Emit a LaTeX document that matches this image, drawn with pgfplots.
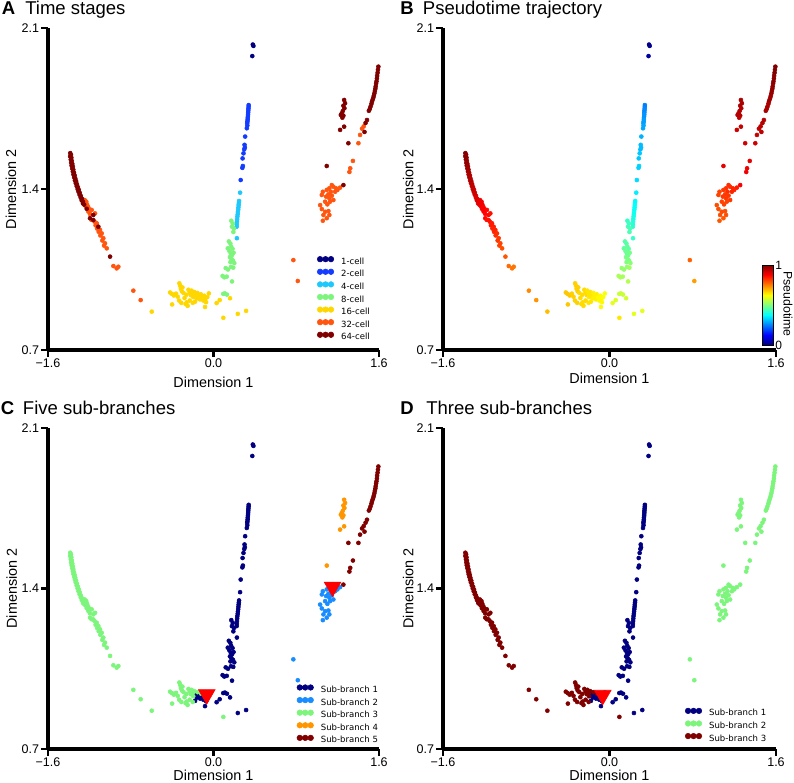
\documentclass[border=0pt]{standalone}
\usepackage{pgfplots}
\pgfplotsset{compat=1.18}
\usepackage{pgfplotstable}
\usepackage{fontspec}
\setmainfont{Liberation Sans}
\newfontfamily\dejavu{DejaVu Sans}

\definecolor{st1}{RGB}{0,0,128}
\definecolor{st2}{RGB}{20,60,255}
\definecolor{st3}{RGB}{30,200,250}
\definecolor{st4}{RGB}{125,245,125}
\definecolor{st5}{RGB}{255,215,0}
\definecolor{st6}{RGB}{255,85,15}
\definecolor{st7}{RGB}{128,0,0}
\definecolor{br1}{RGB}{0,0,128}
\definecolor{br2}{RGB}{25,140,255}
\definecolor{br3}{RGB}{125,245,125}
\definecolor{br4}{RGB}{255,150,0}
\definecolor{br5}{RGB}{128,0,0}

\pgfplotstableread{
x y st pt b5 b3
0.380 2.028 1 0.01 1 1
0.386 2.022 1 0.01 1 1
0.375 1.978 1 0.03 1 1
0.340 1.765 2 0.25 1 1
0.339 1.757 2 0.25 1 1
0.338 1.749 2 0.26 1 1
0.336 1.741 2 0.26 1 1
0.335 1.733 2 0.26 1 1
0.334 1.725 2 0.27 1 1
0.333 1.717 2 0.27 1 1
0.331 1.709 2 0.27 1 1
0.330 1.701 2 0.28 1 1
0.328 1.693 2 0.28 1 1
0.326 1.686 2 0.28 1 1
0.327 1.676 2 0.29 1 1
0.322 1.664 2 0.29 1 1
0.306 1.628 2 0.30 1 1
0.300 1.592 2 0.31 1 1
0.303 1.580 2 0.31 1 1
0.297 1.572 2 0.31 1 1
0.290 1.555 2 0.32 1 1
0.281 1.533 2 0.32 1 1
0.284 1.500 2 0.33 1 1
0.279 1.492 2 0.33 1 1
0.263 1.439 2 0.34 1 1
0.257 1.384 3 0.36 1 1
0.247 1.348 3 0.37 1 1
0.245 1.339 3 0.37 1 1
0.243 1.330 3 0.38 1 1
0.241 1.320 3 0.38 1 1
0.239 1.310 3 0.38 1 1
0.236 1.300 3 0.39 1 1
0.234 1.290 3 0.39 1 1
0.231 1.280 3 0.40 1 1
0.229 1.269 3 0.40 1 1
0.227 1.258 3 0.41 1 1
0.225 1.246 3 0.41 1 1
0.224 1.236 3 0.42 1 1
0.226 1.186 3 0.43 1 1
0.172 1.262 4 0.43 1 1
0.186 1.250 4 0.44 1 1
0.178 1.236 4 0.44 1 1
0.198 1.228 4 0.45 1 1
0.192 1.213 4 0.45 1 1
0.148 1.172 4 0.46 1 1
0.163 1.163 4 0.46 1 1
0.138 1.142 4 0.47 1 1
0.171 1.150 4 0.47 1 1
0.184 1.140 4 0.47 1 1
0.154 1.130 4 0.48 1 1
0.167 1.120 4 0.48 1 1
0.180 1.113 4 0.48 1 1
0.194 1.123 4 0.49 1 1
0.159 1.104 4 0.49 1 1
0.174 1.096 4 0.50 1 1
0.188 1.089 4 0.50 1 1
0.164 1.082 4 0.50 1 1
0.201 1.078 4 0.51 1 1
0.118 1.056 4 0.52 1 1
0.140 1.050 4 0.52 1 1
0.169 1.061 4 0.52 1 1
0.191 1.058 4 0.53 1 1
0.088 1.022 4 0.54 1 1
0.104 1.016 4 0.54 1 1
0.128 1.019 4 0.54 1 1
0.179 0.998 4 0.55 1 1
0.094 0.944 4 0.57 1 1
0.110 0.946 4 0.57 1 1
0.130 0.941 4 0.57 1 1
-0.597 0.867 5 0.69 3 3
-0.420 0.950 5 0.68 3 3
-0.402 0.944 5 0.68 3 3
-0.383 0.937 5 0.68 3 3
-0.362 0.945 5 0.67 3 3
-0.346 0.932 5 0.67 3 3
-0.400 0.898 5 0.68 3 3
-0.330 0.990 5 0.67 3 3
-0.322 0.979 5 0.67 3 3
-0.316 0.966 5 0.67 3 3
-0.300 0.972 5 0.67 3 3
-0.306 0.955 5 0.67 3 3
-0.290 0.948 5 0.66 3 3
-0.332 0.915 5 0.67 3 3
-0.311 0.905 5 0.67 3 3
-0.270 0.900 5 0.66 3 3
-0.259 0.907 5 0.66 3 3
-0.250 0.892 5 0.66 3 3
-0.280 0.926 5 0.66 3 3
-0.262 0.940 5 0.66 3 3
-0.242 0.962 5 0.66 3 3
-0.230 0.950 5 0.66 3 3
-0.220 0.939 5 0.66 3 3
-0.212 0.958 5 0.65 3 3
-0.200 0.945 5 0.65 3 3
-0.196 0.930 5 0.65 3 3
-0.200 0.905 5 0.65 3 3
-0.230 0.915 5 0.66 3 3
-0.185 0.952 5 0.65 3 3
-0.178 0.910 5 0.65 1 1
-0.170 0.938 5 0.65 1 1
-0.162 0.924 5 0.64 1 1
-0.155 0.948 5 0.64 3 3
-0.145 0.934 5 0.64 1 1
-0.130 0.920 5 0.64 1 1
-0.122 0.942 5 0.64 3 3
-0.110 0.928 5 0.63 1 1
-0.098 0.915 5 0.63 1 1
-0.090 0.936 5 0.63 1 1
-0.080 0.922 5 0.63 1 1
-0.072 0.908 5 0.63 1 1
-0.060 0.930 5 0.62 1 1
-0.045 0.946 5 0.62 1 1
-0.082 0.887 5 0.63 1 1
0.030 0.904 5 0.60 1 1
0.060 0.917 5 0.59 1 1
0.095 0.840 5 0.65 3 3
0.160 0.925 5 0.58 1 1
0.235 0.857 5 0.60 1 1
0.315 0.870 5 0.60 1 1
-0.775 0.958 6 0.74 3 3
-0.704 0.917 6 0.73 3 3
-1.385 1.556 7 1.00 3 3
-1.378 1.549 7 0.99 3 3
-1.386 1.542 7 0.99 3 3
-1.374 1.536 7 0.99 3 3
-1.380 1.528 7 0.99 3 3
-1.370 1.522 7 0.98 3 3
-1.376 1.514 7 0.98 3 3
-1.365 1.509 7 0.98 3 3
-1.372 1.502 7 0.98 3 3
-1.360 1.497 7 0.97 3 3
-1.366 1.489 7 0.97 3 3
-1.355 1.484 7 0.97 3 3
-1.360 1.476 7 0.97 3 3
-1.349 1.471 7 0.96 3 3
-1.354 1.463 7 0.96 3 3
-1.342 1.459 7 0.96 3 3
-1.347 1.451 7 0.96 3 3
-1.336 1.446 7 0.95 3 3
-1.340 1.438 7 0.95 3 3
-1.328 1.434 7 0.95 3 3
-1.332 1.426 7 0.95 3 3
-1.320 1.421 7 0.94 3 3
-1.323 1.413 7 0.94 3 3
-1.311 1.408 7 0.94 3 3
-1.314 1.400 7 0.93 3 3
-1.302 1.396 7 0.93 3 3
-1.305 1.388 7 0.93 3 3
-1.293 1.383 7 0.92 3 3
-1.295 1.375 7 0.92 3 3
-1.283 1.370 7 0.92 3 3
-1.284 1.362 7 0.91 3 3
-1.272 1.358 7 0.91 3 3
-1.274 1.350 7 0.91 3 3
-1.262 1.345 7 0.90 3 3
-1.262 1.337 7 0.90 3 3
-1.250 1.332 7 0.90 3 3
-1.245 1.352 6 0.90 3 3
-1.230 1.345 6 0.89 3 3
-1.238 1.326 6 0.89 3 3
-1.222 1.333 6 0.89 3 3
-1.212 1.322 6 0.88 3 3
-1.226 1.314 7 0.88 3 3
-1.200 1.312 6 0.88 3 3
-1.210 1.302 6 0.88 3 3
-1.178 1.309 6 0.87 3 3
-1.195 1.292 6 0.87 3 3
-1.162 1.287 7 0.87 3 3
-1.145 1.294 6 0.86 3 3
-1.194 1.273 7 0.87 3 3
-1.180 1.266 6 0.86 3 3
-1.162 1.265 7 0.86 3 3
-1.150 1.258 6 0.86 3 3
-1.129 1.251 6 0.85 3 3
-1.140 1.242 6 0.85 3 3
-1.113 1.236 7 0.85 3 3
-1.125 1.228 6 0.84 3 3
-1.097 1.222 6 0.84 3 3
-1.110 1.214 6 0.84 3 3
-1.081 1.207 6 0.83 3 3
-1.094 1.198 6 0.83 3 3
-1.065 1.186 6 0.82 3 3
-1.075 1.176 6 0.82 3 3
-1.049 1.164 6 0.81 3 3
-1.058 1.154 6 0.81 3 3
-1.032 1.142 6 0.80 3 3
-1.000 1.106 7 0.79 3 3
-0.968 1.065 6 0.77 3 3
-0.936 1.055 6 0.76 3 3
-0.920 1.062 6 0.76 3 3
1.594 1.932 7 1.00 5 2
1.590 1.918 7 1.00 5 2
1.586 1.905 7 1.00 5 2
1.582 1.892 7 0.99 5 2
1.580 1.880 7 0.99 5 2
1.576 1.868 7 0.99 5 2
1.572 1.858 7 0.99 5 2
1.568 1.846 7 0.98 5 2
1.565 1.836 7 0.98 5 2
1.560 1.826 7 0.98 5 2
1.556 1.816 7 0.98 5 2
1.550 1.806 7 0.97 5 2
1.545 1.797 7 0.97 5 2
1.538 1.788 7 0.97 5 2
1.532 1.779 7 0.97 5 2
1.527 1.770 7 0.96 5 2
1.518 1.758 7 0.96 5 2
1.511 1.748 7 0.96 5 2
1.502 1.740 7 0.96 5 2
1.484 1.700 7 0.95 5 2
1.470 1.687 7 0.95 5 2
1.452 1.672 6 0.94 5 2
1.436 1.662 6 0.94 5 2
1.460 1.648 7 0.94 5 2
1.417 1.635 6 0.93 5 2
1.401 1.599 6 0.92 5 2
1.304 1.599 7 0.92 5 2
1.348 1.522 6 0.90 5 2
1.322 1.490 6 0.89 5 2
1.314 1.474 6 0.89 5 2
1.256 1.417 7 0.88 5 2
1.263 1.787 7 0.96 4 2
1.272 1.773 7 0.96 4 2
1.256 1.762 7 0.96 4 2
1.266 1.751 7 0.95 4 2
1.250 1.739 7 0.95 4 2
1.240 1.729 7 0.95 4 2
1.231 1.722 7 0.95 4 2
1.256 1.719 7 0.95 4 2
1.246 1.710 7 0.94 4 2
1.224 1.657 7 0.93 4 2
1.263 1.671 7 0.93 4 2
1.095 1.500 7 0.90 4 2
1.224 1.406 6 0.85 2 2
1.198 1.396 6 0.84 2 2
1.176 1.388 6 0.84 2 2
1.144 1.417 6 0.83 2 2
1.159 1.410 6 0.83 2 2
1.120 1.403 6 0.83 2 2
1.134 1.388 6 0.83 2 2
1.095 1.396 6 0.82 2 2
1.111 1.377 6 0.82 2 2
1.144 1.371 6 0.82 2 2
1.089 1.367 6 0.82 2 2
1.120 1.360 6 0.82 2 2
1.159 1.352 6 0.82 2 2
1.079 1.345 6 0.81 2 2
1.127 1.345 6 0.81 2 2
1.101 1.333 6 0.81 2 2
1.057 1.388 6 0.81 2 2
1.047 1.374 6 0.81 2 2
1.185 1.403 6 0.84 2 2
1.031 1.330 6 0.80 2 2
1.047 1.313 6 0.80 2 2
1.079 1.301 6 0.80 2 2
1.111 1.304 6 0.80 2 2
1.063 1.287 6 0.80 2 2
1.095 1.273 6 0.79 2 2
1.057 1.262 6 0.79 2 2
1.120 1.287 6 0.80 2 2
0.772 1.091 6 0.78 2 2
0.815 1.000 6 0.72 2 2
}\cells

\pgfplotsset{
  sel/.style 2 args={x filter/.expression={abs(\thisrow{#1}-#2)<0.5 ? x : nan}},
  dots/.style={only marks, mark=*, mark size=1.5pt, color=#1},
  panel/.style={
    scale only axis, anchor=south west,
    axis x line*=bottom, axis y line*=left,
    xmin=-1.6, xmax=1.6, ymin=0.7, ymax=2.1,
    xtick={-1.6,0,1.6}, xticklabels={−1.6,0.0,1.6},
    ytick={0.7,1.4,2.1}, yticklabels={0.7,1.4,2.1},
    tick align=outside, major tick length=5pt,
    tick style={black, line width=1.6pt},
    axis line style={black, line width=2.3pt},
    tick label style={font=\fontsize{9.4}{11}\selectfont, inner sep=1.5pt},
    label style={font=\fontsize{10.8}{13}\selectfont},
    xlabel={Dimension 1}, ylabel={Dimension 2},
    clip=false,
  },
  dotleg/.style={
    legend cell align=left,
    legend image code/.code={\fill (0pt,2pt) circle (2.1pt) (4.1pt,2pt) circle (2.1pt) (8.2pt,2pt) circle (2.1pt);},
    legend style={draw=none, fill=none, inner sep=0pt, outer sep=0pt, anchor=north west,
      font=\dejavu\fontsize{6.4}{7.5}\selectfont, row sep=1.75pt,
      nodes={inner sep=0.4pt, text height=4.8pt, text depth=1.2pt},
      /tikz/every odd column/.append style={column sep=4.9pt}},
  },
}

\begin{document}
\begin{tikzpicture}
\useasboundingbox (0,0) rectangle (595.5pt,587.25pt);

\node[anchor=base west, inner sep=0pt, font=\fontsize{13.9}{16}\selectfont\bfseries] at (1.2pt,576pt) {A};
\node[anchor=base west, inner sep=0pt, font=\fontsize{13.9}{16}\selectfont] at (18.75pt,576pt) {Time stages};
\node[anchor=base west, inner sep=0pt, font=\fontsize{13.9}{16}\selectfont\bfseries] at (300pt,576pt) {B};
\node[anchor=base west, inner sep=0pt, font=\fontsize{13.9}{16}\selectfont] at (317pt,576pt) {Pseudotime trajectory};
\node[anchor=base west, inner sep=0pt, font=\fontsize{13.9}{16}\selectfont\bfseries] at (0.5pt,276pt) {C};
\node[anchor=base west, inner sep=0pt, font=\fontsize{13.9}{16}\selectfont] at (17pt,276pt) {Five sub-branches};
\node[anchor=base west, inner sep=0pt, font=\fontsize{13.9}{16}\selectfont\bfseries] at (300pt,276pt) {D};
\node[anchor=base west, inner sep=0pt, font=\fontsize{13.9}{16}\selectfont] at (319.5pt,276pt) {Three sub-branches};

% Panel A
\begin{axis}[panel, dotleg, at={(36pt,324.75pt)}, width=248.25pt, height=241.5pt,
  xlabel style={at={(axis description cs:0.5,-0.1009)}, anchor=center},
  ylabel style={at={(axis description cs:-0.1118,0.5)}, anchor=center},
  legend style={at={(0.8127,0.2916)}}]
\addplot[dots=st1, sel={st}{1}] table[x=x,y=y]{\cells};
\addlegendentry{1-cell}
\addplot[dots=st2, sel={st}{2}] table[x=x,y=y]{\cells};
\addlegendentry{2-cell}
\addplot[dots=st3, sel={st}{3}] table[x=x,y=y]{\cells};
\addlegendentry{4-cell}
\addplot[dots=st4, sel={st}{4}] table[x=x,y=y]{\cells};
\addlegendentry{8-cell}
\addplot[dots=st5, sel={st}{5}] table[x=x,y=y]{\cells};
\addlegendentry{16-cell}
\addplot[dots=st6, sel={st}{6}] table[x=x,y=y]{\cells};
\addlegendentry{32-cell}
\addplot[dots=st7, sel={st}{7}] table[x=x,y=y]{\cells};
\addlegendentry{64-cell}
\end{axis}

% Panel B
\begin{axis}[panel, at={(332.25pt,324.75pt)}, width=249.75pt, height=241.5pt,
  xlabel style={at={(axis description cs:0.5,-0.0879)}, anchor=center},
  ylabel style={at={(axis description cs:-0.1042,0.5)}, anchor=center},
  colormap/jet, point meta min=0, point meta max=1,
  colorbar,
  colorbar style={scale only axis, at={(parent axis.south east)}, anchor=south east,
    xshift=-10.7pt, yshift=3.75pt, width=8.25pt, height=60pt,
    ytick={0,1}, yticklabels={0,1}, axis line style={line width=0.5pt},
    tick style={line width=0.5pt}, major tick length=1.5pt,
    yticklabel style={font=\fontsize{9}{10}\selectfont, inner sep=1.5pt}}]
\addplot[scatter, only marks, mark=*, mark size=1.5pt, point meta=explicit,
  scatter/use mapped color={draw=mapped color, fill=mapped color}]
  table[x=x, y=y, meta=pt]{\cells};
\end{axis}
\node[rotate=-90, inner sep=0pt, font=\fontsize{9.2}{11}\selectfont] at (591pt,359.25pt) {Pseudotime};

% Panel C
\begin{axis}[panel, dotleg, at={(36pt,25.5pt)}, width=248.25pt, height=240.75pt,
  xlabel style={at={(axis description cs:0.5,-0.081)}, anchor=center},
  ylabel style={at={(axis description cs:-0.1097,0.5)}, anchor=center},
  legend style={at={(0.7514,0.2012)}}]
\addplot[dots=br1, sel={b5}{1}] table[x=x,y=y]{\cells};
\addlegendentry{Sub-branch 1}
\addplot[dots=br2, sel={b5}{2}] table[x=x,y=y]{\cells};
\addlegendentry{Sub-branch 2}
\addplot[dots=br3, sel={b5}{3}] table[x=x,y=y]{\cells};
\addlegendentry{Sub-branch 3}
\addplot[dots=br4, sel={b5}{4}] table[x=x,y=y]{\cells};
\addlegendentry{Sub-branch 4}
\addplot[dots=br5, sel={b5}{5}] table[x=x,y=y]{\cells};
\addlegendentry{Sub-branch 5}
\addplot[only marks, mark=triangle*, mark size=7.3pt, mark options={rotate=180, fill=red, draw=red}, forget plot]
  coordinates {(-0.065,0.938) (1.151,1.407)};
\end{axis}

% Panel D
\begin{axis}[panel, dotleg, at={(332.25pt,25.5pt)}, width=249.75pt, height=240.75pt,
  xlabel style={at={(axis description cs:0.5,-0.081)}, anchor=center},
  ylabel style={at={(axis description cs:-0.1042,0.5)}, anchor=center},
  legend style={at={(0.7267,0.1283)}}]
\addplot[dots=br1, sel={b3}{1}] table[x=x,y=y]{\cells};
\addlegendentry{Sub-branch 1}
\addplot[dots=br3, sel={b3}{2}] table[x=x,y=y]{\cells};
\addlegendentry{Sub-branch 2}
\addplot[dots=br5, sel={b3}{3}] table[x=x,y=y]{\cells};
\addlegendentry{Sub-branch 3}
\addplot[only marks, mark=triangle*, mark size=7.3pt, mark options={rotate=180, fill=red, draw=red}, forget plot]
  coordinates {(-0.065,0.935)};
\end{axis}
\end{tikzpicture}
\end{document}
